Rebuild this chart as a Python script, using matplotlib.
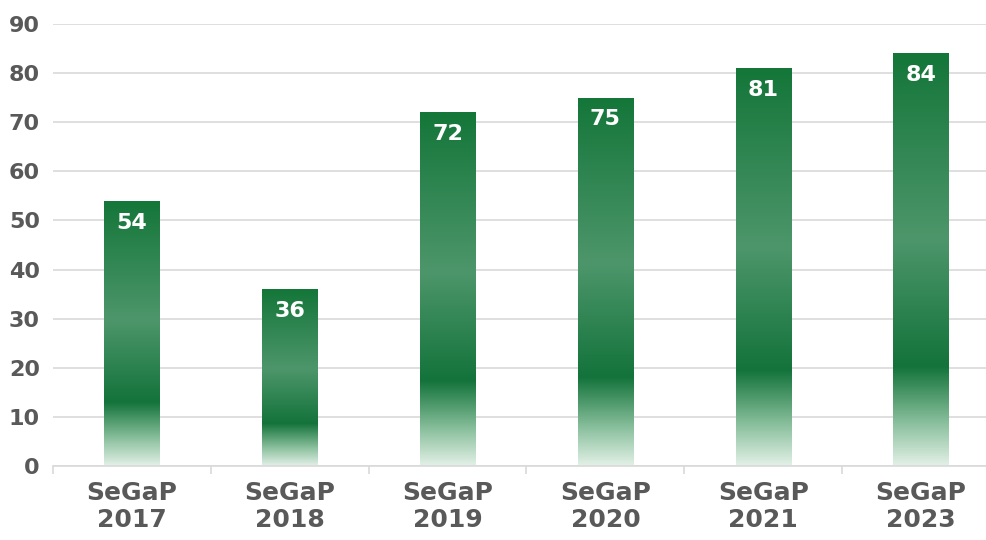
import matplotlib.pyplot as plt
import matplotlib.colors as mcolors
from matplotlib.patches import Rectangle
import numpy as np

categories = ['SeGaP\n2017', 'SeGaP\n2018', 'SeGaP\n2019', 'SeGaP\n2020', 'SeGaP\n2021', 'SeGaP\n2023']
values = [54, 36, 72, 75, 81, 84]

# gradient stops, fraction of bar height from the bottom
grad = mcolors.LinearSegmentedColormap.from_list('bar', [
    (0.00, '#e2f0e6'),
    (0.10, '#8cc19f'),
    (0.24, '#13733a'),
    (0.55, '#4d966b'),
    (1.00, '#147639'),
])

fig = plt.figure(figsize=(9.87, 5.4), dpi=100)
ax = fig.add_axes([53 / 987, 1 - 466 / 540, 947 / 987, (466 - 24) / 540])

width = 0.35
x = np.arange(len(values))
img = np.linspace(0, 1, 256).reshape(-1, 1)
for xi, v in zip(x, values):
    rect = Rectangle((xi - width / 2, 0), width, v, facecolor='none', edgecolor='none')
    ax.add_patch(rect)
    im = ax.imshow(img, cmap=grad, origin='lower', aspect='auto',
                   extent=(xi - width / 2, xi + width / 2, 0, v), zorder=2)
    im.set_clip_path(rect)
    ax.text(xi, v - 2.4, str(v), ha='center', va='top', color='white',
            fontsize=16, fontweight='bold', family='DejaVu Sans', zorder=3)

ax.set_xlim(-0.5, len(values) - 0.5)
ax.set_ylim(0, 90)
ax.set_yticks(range(0, 91, 10))
ax.yaxis.grid(True, color='#d9d9d9', linewidth=1.2)
ax.set_axisbelow(True)

ax.set_xticks(x)
ax.set_xticklabels(categories, fontsize=18, fontweight='bold', color='#595959',
                   family='DejaVu Sans', linespacing=1.15)
ax.set_xticks(np.arange(-0.5, len(values), 1), minor=True)
ax.tick_params(axis='x', which='major', length=0, pad=11)
ax.tick_params(axis='x', which='minor', length=6, color='#d9d9d9', width=1.2)
ax.tick_params(axis='y', length=0, pad=9.5)
for lbl in ax.get_yticklabels():
    lbl.set_fontsize(16)
    lbl.set_fontweight('bold')
    lbl.set_color('#595959')
    lbl.set_family('DejaVu Sans')

for s in ['top', 'right', 'left']:
    ax.spines[s].set_visible(False)
ax.spines['bottom'].set_color('#d9d9d9')
ax.spines['bottom'].set_linewidth(1.2)

fig.savefig('out.png', dpi=100)
